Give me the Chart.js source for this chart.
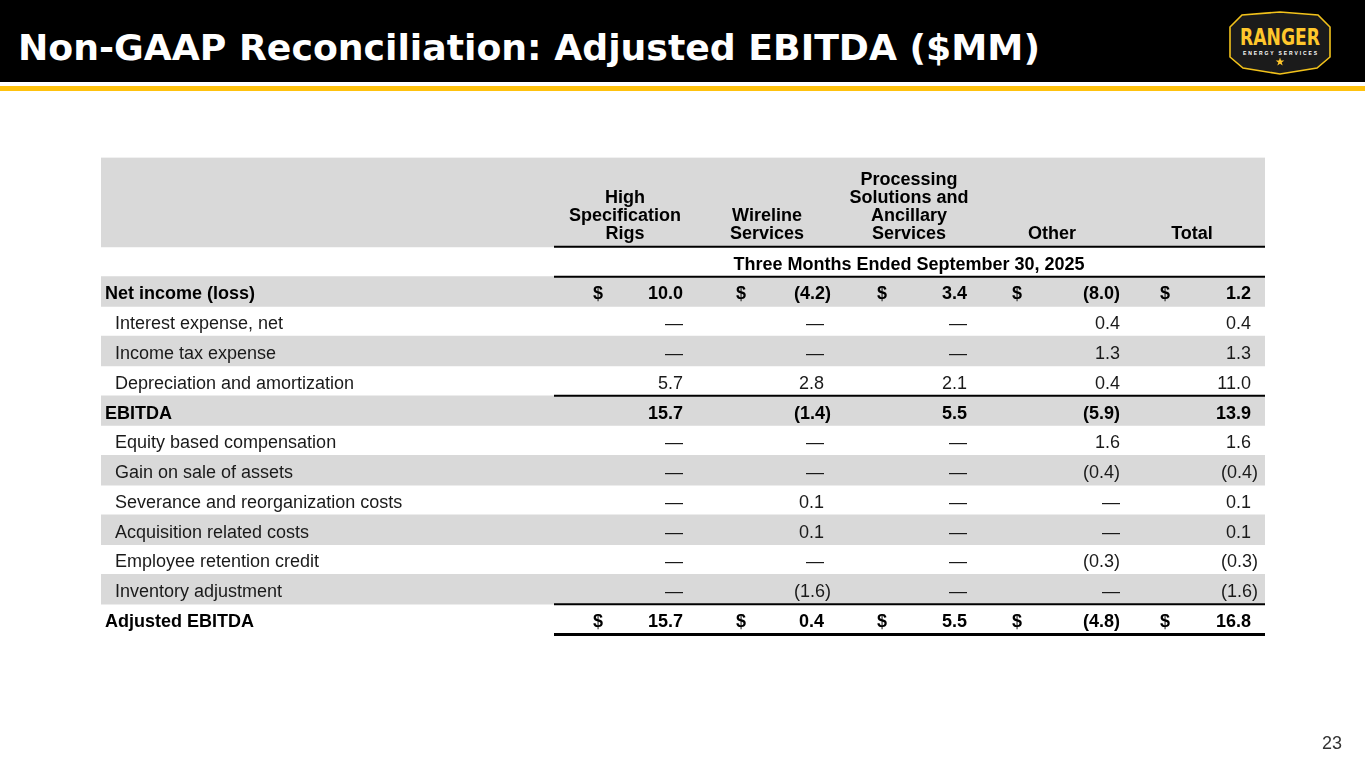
<!DOCTYPE html>
<html><head><meta charset="utf-8">
<script src="https://cdn.jsdelivr.net/npm/chart.js@4.4.1/dist/chart.umd.min.js"></script>
<style>
html,body{margin:0;padding:0;background:#fff;width:1365px;height:768px;overflow:hidden}
#bar{position:absolute;left:0;top:0;width:1365px;height:82px;background:#000}
#gold{position:absolute;left:0;top:86px;width:1365px;height:5px;background:#FFC20E}
#title{position:absolute;left:18px;top:30px;font-family:'DejaVu Sans',sans-serif;font-weight:700;font-size:36px;line-height:36px;color:#fff;white-space:nowrap}
#logo{position:absolute;left:1226px;top:10px}
#page{position:absolute;left:1322px;top:733px;font-family:'Liberation Sans',Arial,sans-serif;font-size:18px;color:#333}
#wrap{position:absolute;left:0;top:0;width:1365px;height:768px}
</style></head>
<body>
<div id="bar"></div>
<div id="gold"></div>
<div id="title">Non-GAAP Reconciliation: Adjusted EBITDA ($MM)</div>
<svg id="logo" width="108" height="68" viewBox="0 0 108 68">
  <polygon points="4,17 16,5 54,2 92,5 104,17 104,47 91,58 54,64 17,58 4,47" fill="#1b1b1b" stroke="#F2C21B" stroke-width="1.6"/>
  <text x="54" y="35" text-anchor="middle" font-family="'Liberation Sans Narrow','DejaVu Sans Condensed',sans-serif" font-weight="bold" font-size="23" fill="#FFC72C" textLength="80" lengthAdjust="spacingAndGlyphs">RANGER</text>
  <text x="54" y="45" text-anchor="middle" font-family="'Liberation Sans',sans-serif" font-weight="bold" font-size="5" fill="#ffffff" textLength="74" lengthAdjust="spacing">ENERGY SERVICES</text>
  <polygon points="54,47.5 55.1,50.6 58.3,50.6 55.7,52.5 56.7,55.6 54,53.7 51.3,55.6 52.3,52.5 49.7,50.6 52.9,50.6" fill="#FFC72C"/>
</svg>
<div id="wrap"><canvas id="c"></canvas></div>
<div id="page">23</div>
<script>
// ---------- data ----------
const columnHeaders = [
  ['High', 'Specification', 'Rigs'],
  ['Wireline', 'Services'],
  ['Processing', 'Solutions and', 'Ancillary', 'Services'],
  ['Other'],
  ['Total']
];
const periodLabel = 'Three Months Ended September 30, 2025';
const rowLabels = [
  'Net income (loss)',
  'Interest expense, net',
  'Income tax expense',
  'Depreciation and amortization',
  'EBITDA',
  'Equity based compensation',
  'Gain on sale of assets',
  'Severance and reorganization costs',
  'Acquisition related costs',
  'Employee retention credit',
  'Inventory adjustment',
  'Adjusted EBITDA'
];
const highSpecRigs = [10.0, null, null, 5.7, 15.7, null, null, null, null, null, null, 15.7];
const wirelineServices = [-4.2, null, null, 2.8, -1.4, null, null, 0.1, 0.1, null, -1.6, 0.4];
const processingSolutions = [3.4, null, null, 2.1, 5.5, null, null, null, null, null, null, 5.5];
const other = [-8.0, 0.4, 1.3, 0.4, -5.9, 1.6, -0.4, null, null, -0.3, null, -4.8];
const total = [1.2, 0.4, 1.3, 11.0, 13.9, 1.6, -0.4, 0.1, 0.1, -0.3, -1.6, 16.8];
const columnValues = [highSpecRigs, wirelineServices, processingSolutions, other, total];
const boldRows = ['Net income (loss)', 'EBITDA', 'Adjusted EBITDA'];
const dollarRows = ['Net income (loss)', 'Adjusted EBITDA'];
const ruledAfterRows = ['Depreciation and amortization', 'Inventory adjustment'];

// ---------- layout (positions / styles) ----------
const headerSlots = ['hdr1', 'hdr2', 'hdr3'];
const yLabels = headerSlots.concat([periodLabel], rowLabels);
const LAYOUT = {
  left: 101, right: 1265, top: 157.5, bottom: 634,
  ruleLeft: 554, labelX: 105, indentX: 115,
  headCenters: [625, 767, 909, 1052, 1192],
  dollarX: [593, 736, 877, 1012, 1160],
  rightX: [683, 824, 967, 1120, 1251],
  hang: [7, 7, 7, 0, 7],
  periodCenter: 909,
  font: '"Liberation Sans", Arial, sans-serif',
  size: 18, capShift: 6.4, textDrop: 1.5, headLine: 18,
  stripe: '#D9D9D9', ink: '#000000', inkLight: '#1a1a1a',
  titleWidth: 1022
};

// fit title width to the slide by scaling font size
(function fitTitle() {
  const el = document.getElementById('title');
  const w = el.getBoundingClientRect().width;
  const fs = 36 * LAYOUT.titleWidth / w;
  el.style.fontSize = fs.toFixed(2) + 'px';
  el.style.lineHeight = fs.toFixed(2) + 'px';
  el.style.top = (61 - 0.846 * fs) + 'px';
})();

const fmt = v => v === null ? '\u2014' : (v < 0 ? '(' + Math.abs(v).toFixed(1) + ')' : v.toFixed(1));

const stripeData = yLabels.map((lab, i) => {
  const isHeader = headerSlots.includes(lab);
  const r = rowLabels.indexOf(lab);
  return (isHeader || (r >= 0 && r % 2 === 0)) ? [LAYOUT.left, LAYOUT.right] : null;
});

const tablePlugin = {
  id: 'tableText',
  afterDatasetsDraw(chart) {
    const { ctx, scales: { x, y } } = chart;
    const step = y.getPixelForValue(1) - y.getPixelForValue(0);
    const base = i => y.getPixelForValue(i) + LAYOUT.capShift + LAYOUT.textDrop;
    const boundary = i => y.getPixelForValue(i) + step / 2;
    const X = v => x.getPixelForValue(v);
    ctx.save();
    ctx.font = 'bold ' + LAYOUT.size + 'px ' + LAYOUT.font;
    ctx.fillStyle = LAYOUT.ink;
    ctx.textAlign = 'center';
    ctx.textBaseline = 'alphabetic';
    const lastHead = base(headerSlots.length - 1) - 1;
    columnHeaders.forEach((lines, c) => {
      lines.forEach((t, k) => {
        const yy = lastHead - (lines.length - 1 - k) * LAYOUT.headLine;
        ctx.fillText(t, X(LAYOUT.headCenters[c]), yy);
      });
    });
    const pi = yLabels.indexOf(periodLabel);
    ctx.fillText(periodLabel, X(LAYOUT.periodCenter), base(pi));
    rowLabels.forEach((lab, r) => {
      const yi = yLabels.indexOf(lab);
      const bold = boldRows.includes(lab);
      ctx.font = (bold ? 'bold ' : '') + LAYOUT.size + 'px ' + LAYOUT.font;
      ctx.fillStyle = bold ? LAYOUT.ink : LAYOUT.inkLight;
      ctx.textAlign = 'left';
      ctx.fillText(lab, X(bold ? LAYOUT.labelX : LAYOUT.indentX), base(yi));
      columnValues.forEach((vals, c) => {
        const v = vals[r];
        if (dollarRows.includes(lab)) {
          ctx.textAlign = 'left';
          ctx.fillText('$', X(LAYOUT.dollarX[c]), base(yi));
        }
        ctx.textAlign = 'right';
        const rx = LAYOUT.rightX[c] + ((v !== null && v < 0) ? LAYOUT.hang[c] : 0);
        ctx.fillText(fmt(v), X(rx), base(yi));
      });
    });
    ctx.strokeStyle = LAYOUT.ink;
    const rule = (yy, w) => {
      ctx.lineWidth = w;
      ctx.beginPath();
      ctx.moveTo(X(LAYOUT.ruleLeft), yy);
      ctx.lineTo(X(LAYOUT.right), yy);
      ctx.stroke();
    };
    rule(boundary(headerSlots.length - 1), 2);
    rule(boundary(pi), 2);
    ruledAfterRows.forEach(lab => rule(boundary(yLabels.indexOf(lab)), 2));
    rule(boundary(yLabels.length - 1) + 0.5, 3);
    ctx.restore();
  }
};

new Chart(document.getElementById('c'), {
  type: 'bar',
  data: {
    labels: yLabels,
    datasets: [{
      label: 'stripes',
      data: stripeData,
      backgroundColor: LAYOUT.stripe,
      borderWidth: 0,
      barPercentage: 1,
      categoryPercentage: 1
    }]
  },
  options: {
    indexAxis: 'y',
    responsive: true,
    maintainAspectRatio: false,
    animation: false,
    layout: { padding: { left: LAYOUT.left, right: 1365 - LAYOUT.right, top: LAYOUT.top, bottom: 768 - LAYOUT.bottom } },
    plugins: { legend: { display: false }, tooltip: { enabled: false }, title: { display: false } },
    scales: {
      x: { type: 'linear', min: LAYOUT.left, max: LAYOUT.right, display: false },
      y: { type: 'category', display: false, offset: true }
    }
  },
  plugins: [tablePlugin]
});
</script>
</body></html>
